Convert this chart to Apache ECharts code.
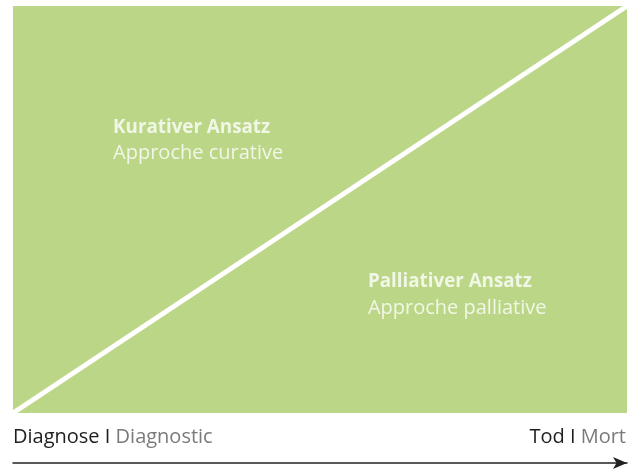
<!DOCTYPE html>
<html>
<head>
<meta charset="utf-8">
<script src="https://cdn.jsdelivr.net/npm/echarts@6/dist/echarts.min.js"></script>
<style>
  html, body { margin: 0; padding: 0; background: #fff; }
  #main { width: 629px; height: 470px; }
</style>
</head>
<body>
<div id="main"></div>
<script>
var diagonal = [[0, 0], [1, 1]];
var zones = [
  { title: 'Kurativer Ansatz', sub: 'Approche curative', x: 0.163, y: 0.67 },
  { title: 'Palliativer Ansatz', sub: 'Approche palliative', x: 0.578, y: 0.29 }
];
var startLabel = ['Diagnose I ', 'Diagnostic'];
var endLabel = ['Tod I ', 'Mort'];

var myChart = echarts.init(document.getElementById('main'));
var font = '"Open Sans", "Liberation Sans", sans-serif';
var option = {
  animation: false,
  grid: {
    left: 13, top: 6, right: 2, bottom: 57,
    show: true, backgroundColor: '#bbd686', borderWidth: 0
  },
  xAxis: {
    type: 'value', min: 0, max: 1,
    splitLine: { show: false },
    axisTick: { show: false },
    axisLabel: { show: false },
    offset: 50,
    axisLine: {
      show: true,
      onZero: false,
      symbol: ['none', 'arrow'],
      symbolSize: [9, 14],
      lineStyle: { color: '#222', width: 1.5 }
    }
  },
  yAxis: {
    type: 'value', min: 0, max: 1, show: false
  },
  series: [
    {
      type: 'line',
      data: diagonal,
      symbol: 'none',
      lineStyle: { color: '#fff', width: 5 },
      silent: true
    },
    {
      type: 'scatter',
      symbolSize: 0,
      silent: true,
      data: zones.map(function (z) { return { value: [z.x, z.y], title: z.title, sub: z.sub }; }),
      label: {
        show: true,
        position: [0, 0],
        align: 'left',
        verticalAlign: 'middle',
        formatter: function (p) {
          return '{b|' + p.data.title + '}\n{r|' + p.data.sub + '}';
        },
        rich: {
          b: { color: '#fff', fontSize: 18.8, fontWeight: 'bold', fontFamily: font, lineHeight: 26 },
          r: { color: '#fff', fontSize: 20, fontFamily: font, lineHeight: 26 }
        }
      }
    }
  ],
  graphic: [
    {
      type: 'text', left: 13, top: 427,
      style: {
        text: '{a|' + startLabel[0] + '}{g|' + startLabel[1] + '}',
        rich: {
          a: { fill: '#1e1e1e', fontSize: 20, fontFamily: font },
          g: { fill: '#7a7a7a', fontSize: 20, fontFamily: font }
        }
      }
    },
    {
      type: 'text', right: 3, top: 427,
      style: {
        text: '{a|' + endLabel[0] + '}{g|' + endLabel[1] + '}',
        rich: {
          a: { fill: '#1e1e1e', fontSize: 20, fontFamily: font },
          g: { fill: '#7a7a7a', fontSize: 20, fontFamily: font }
        }
      }
    }
  ]
};
myChart.setOption(option);
window.onresize = function () { myChart.resize(); };
</script>
</body>
</html>
